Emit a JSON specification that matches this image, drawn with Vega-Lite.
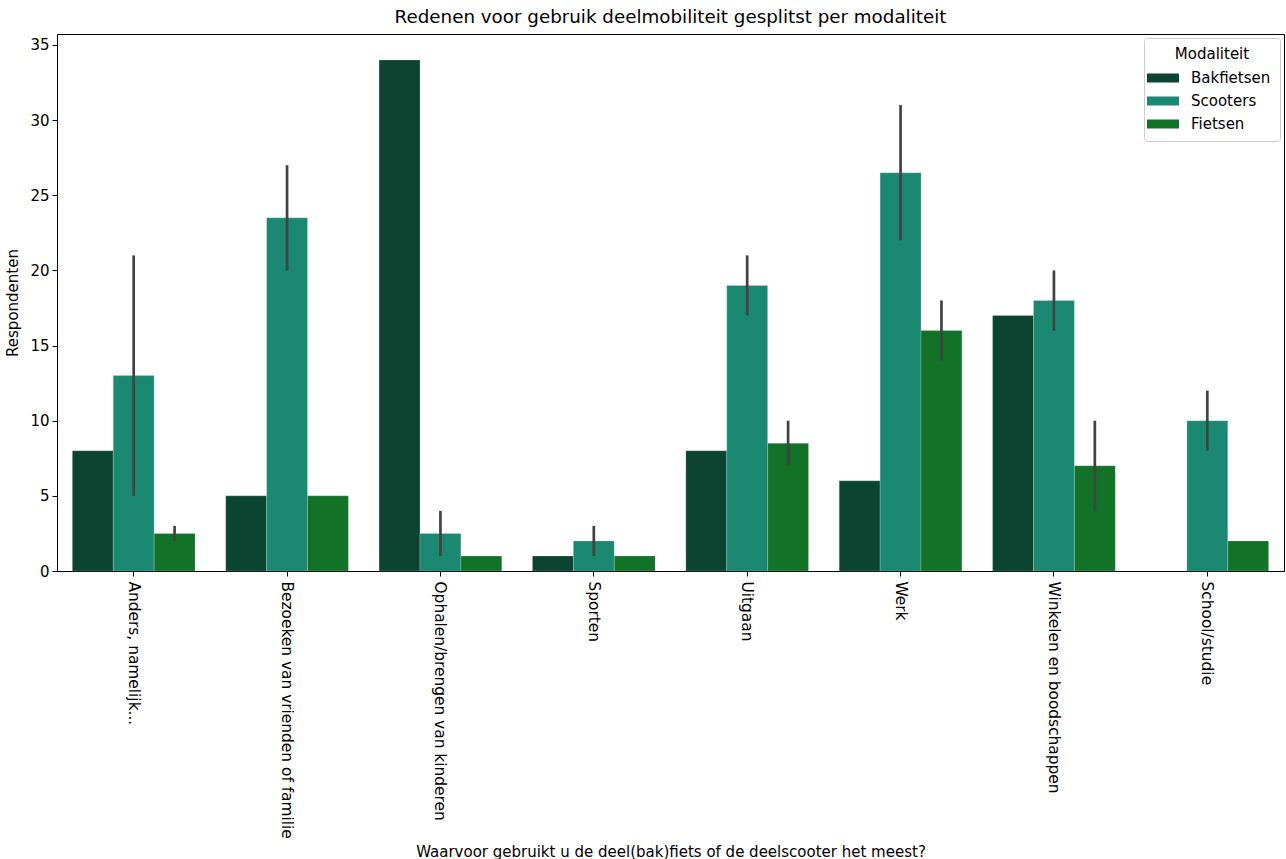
{
  "$schema": "https://vega.github.io/schema/vega-lite/v6.json",
  "width": 1227,
  "height": 537,
  "autosize": {"type": "none"},
  "padding": {"left": 57, "top": 34, "right": 2, "bottom": 288},
  "background": "white",
  "config": {
    "font": "DejaVu Sans",
    "view": {"stroke": "black", "strokeWidth": 1},
    "axis": {"labelFont": "DejaVu Sans", "titleFont": "DejaVu Sans", "labelFontSize": 15, "titleFontSize": 15, "titleFontWeight": "normal", "labelColor": "black", "titleColor": "black", "tickColor": "black", "domainColor": "black", "tickSize": 5, "grid": false},
    "legend": {"labelFont": "DejaVu Sans", "titleFont": "DejaVu Sans"}
  },
  "title": {"text": "Redenen voor gebruik deelmobiliteit gesplitst per modaliteit", "fontSize": 18.3, "fontWeight": "normal", "font": "DejaVu Sans", "color": "black", "offset": 7},
  "data": {"values": [
    {"reden": "Anders, namelijk...", "mod": "Bakfietsen", "v": 8},
    {"reden": "Anders, namelijk...", "mod": "Scooters", "v": 13, "lo": 5, "hi": 21},
    {"reden": "Anders, namelijk...", "mod": "Fietsen", "v": 2.5, "lo": 2, "hi": 3},
    {"reden": "Bezoeken van vrienden of familie", "mod": "Bakfietsen", "v": 5},
    {"reden": "Bezoeken van vrienden of familie", "mod": "Scooters", "v": 23.5, "lo": 20, "hi": 27},
    {"reden": "Bezoeken van vrienden of familie", "mod": "Fietsen", "v": 5},
    {"reden": "Ophalen/brengen van kinderen", "mod": "Bakfietsen", "v": 34},
    {"reden": "Ophalen/brengen van kinderen", "mod": "Scooters", "v": 2.5, "lo": 1, "hi": 4},
    {"reden": "Ophalen/brengen van kinderen", "mod": "Fietsen", "v": 1},
    {"reden": "Sporten", "mod": "Bakfietsen", "v": 1},
    {"reden": "Sporten", "mod": "Scooters", "v": 2, "lo": 1, "hi": 3},
    {"reden": "Sporten", "mod": "Fietsen", "v": 1},
    {"reden": "Uitgaan", "mod": "Bakfietsen", "v": 8},
    {"reden": "Uitgaan", "mod": "Scooters", "v": 19, "lo": 17, "hi": 21},
    {"reden": "Uitgaan", "mod": "Fietsen", "v": 8.5, "lo": 7, "hi": 10},
    {"reden": "Werk", "mod": "Bakfietsen", "v": 6},
    {"reden": "Werk", "mod": "Scooters", "v": 26.5, "lo": 22, "hi": 31},
    {"reden": "Werk", "mod": "Fietsen", "v": 16, "lo": 14, "hi": 18},
    {"reden": "Winkelen en boodschappen", "mod": "Bakfietsen", "v": 17},
    {"reden": "Winkelen en boodschappen", "mod": "Scooters", "v": 18, "lo": 16, "hi": 20},
    {"reden": "Winkelen en boodschappen", "mod": "Fietsen", "v": 7, "lo": 4, "hi": 10},
    {"reden": "School/studie", "mod": "Scooters", "v": 10, "lo": 8, "hi": 12},
    {"reden": "School/studie", "mod": "Fietsen", "v": 2}
  ]},
  "encoding": {
    "x": {"field": "reden", "type": "nominal", "sort": null,
      "scale": {"domain": ["Anders, namelijk...", "Bezoeken van vrienden of familie", "Ophalen/brengen van kinderen", "Sporten", "Uitgaan", "Werk", "Winkelen en boodschappen", "School/studie"], "paddingInner": 0.2, "paddingOuter": 0.1},
      "axis": {"title": "Waarvoor gebruikt u de deel(bak)fiets of de deelscooter het meest?", "labelAngle": 90, "labelAlign": "left", "labelBaseline": "middle", "labelPadding": 5, "labelLimit": 400, "labelFontSize": 15.4, "titleY": 280, "titleBaseline": "middle"}},
    "xOffset": {"field": "mod", "type": "nominal", "scale": {"domain": ["Bakfietsen", "Scooters", "Fietsen"], "paddingInner": 0, "paddingOuter": 0}}
  },
  "layer": [
    {
      "mark": {"type": "bar", "stroke": "white", "strokeWidth": 0.5, "strokeOpacity": 0.4},
      "encoding": {
        "y": {"field": "v", "type": "quantitative", "scale": {"domain": [0, 35.73], "nice": false},
          "axis": {"title": "Respondenten", "values": [0, 5, 10, 15, 20, 25, 30, 35], "titlePadding": 9, "labelPadding": 3}},
        "color": {"field": "mod", "type": "nominal",
          "scale": {"domain": ["Bakfietsen", "Scooters", "Fietsen"], "range": ["#0b4430", "#1b8872", "#127228"]},
          "legend": {"title": "Modaliteit", "orient": "top-right", "offset": 4, "padding": 9, "strokeColor": "#cccccc", "fillColor": "white", "cornerRadius": 3,
            "titleFontSize": 15, "titleFontWeight": "normal", "titleColor": "black", "titleAnchor": "middle", "titleAlign": "center", "titlePadding": 6,
            "labelFontSize": 15, "labelColor": "black", "labelOffset": 18,
            "symbolType": "M-1.6,-0.45H1.6V0.45H-1.6Z", "symbolSize": 400, "symbolStrokeWidth": 0, "rowPadding": 5}}
      }
    },
    {
      "mark": {"type": "rule", "color": "#424242", "strokeWidth": 2.7},
      "encoding": {
        "y": {"field": "lo", "type": "quantitative"},
        "y2": {"field": "hi"}
      }
    }
  ]
}
